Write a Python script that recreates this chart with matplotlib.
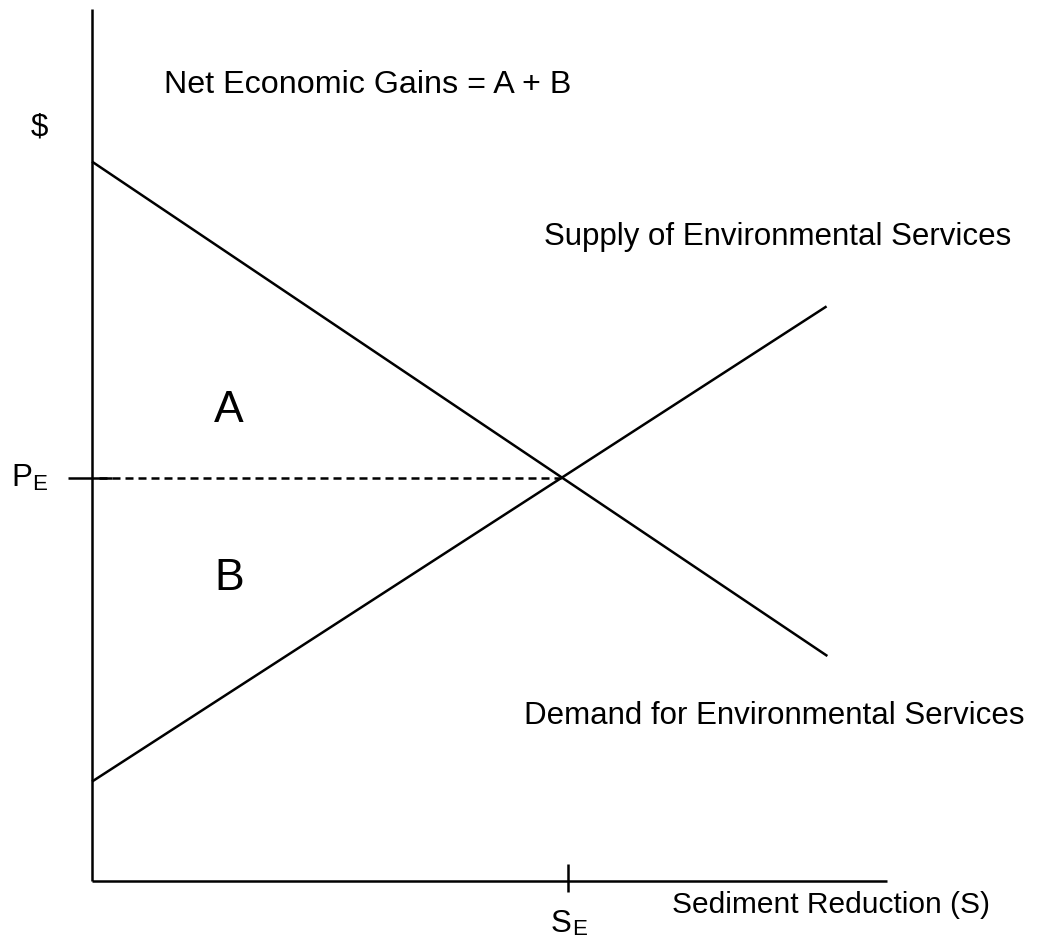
import matplotlib.pyplot as plt

plt.rcParams['font.family'] = ['Liberation Sans', 'DejaVu Sans']

# curves in chart units (quantity 0-100, price 0-100)
demand_q = [0, 92.5]
demand_p = [82.5, 25.8]
supply_q = [0, 92.4]
supply_p = [11.4, 65.9]
eq_q = 59.0
eq_p = 46.2
se_tick_q = 59.9

W, H = 1041, 939
fig = plt.figure(figsize=(W / 100, H / 100), dpi=100)
ax = fig.add_axes([92 / W, 58 / H, 795 / W, 872 / H])
ax.set_xlim(0, 100)
ax.set_ylim(0, 100)
ax.axis('off')

k = dict(color='black', lw=1.8, clip_on=False, solid_capstyle='butt')
# axes
ax.plot([0, 0], [0, 100], **k)
ax.plot([0, 100], [0, 0], **k)
# curves
ax.plot(demand_q, demand_p, **k)
ax.plot(supply_q, supply_p, **k)
# equilibrium price
ax.plot([0.9, eq_q], [eq_p, eq_p], color='black', lw=1.8, dashes=(3.2, 2.0))
ax.plot([-3.0, 2.5], [eq_p, eq_p], **k)
ax.plot([se_tick_q, se_tick_q], [1.95, -1.26], **k)


def px(x, y):
    return x / W, 1 - y / H


fs = 22.5
fig.text(*px(164, 93), 'Net Economic Gains = A + B', fontsize=23.2, va='baseline')
fig.text(*px(31, 136), '$', fontsize=fs, va='baseline')
fig.text(*px(544, 245), 'Supply of Environmental Services', fontsize=fs, va='baseline')
fig.text(*px(524, 724), 'Demand for Environmental Services', fontsize=fs, va='baseline')
fig.text(*px(672, 913), 'Sediment Reduction (S)', fontsize=21.5, va='baseline')
fig.text(*px(229, 422), 'A', fontsize=32, va='baseline', ha='center')
fig.text(*px(229, 590), 'B', fontsize=32, va='baseline', ha='center')
fig.text(*px(11, 486), 'P', fontsize=fs, va='baseline')
fig.text(*px(32, 490), 'E', fontsize=16, va='baseline')
fig.text(*px(551, 932), 'S', fontsize=fs, va='baseline')
fig.text(*px(572, 935), 'E', fontsize=16, va='baseline')

fig.savefig('out.png', dpi=100, facecolor='white')
